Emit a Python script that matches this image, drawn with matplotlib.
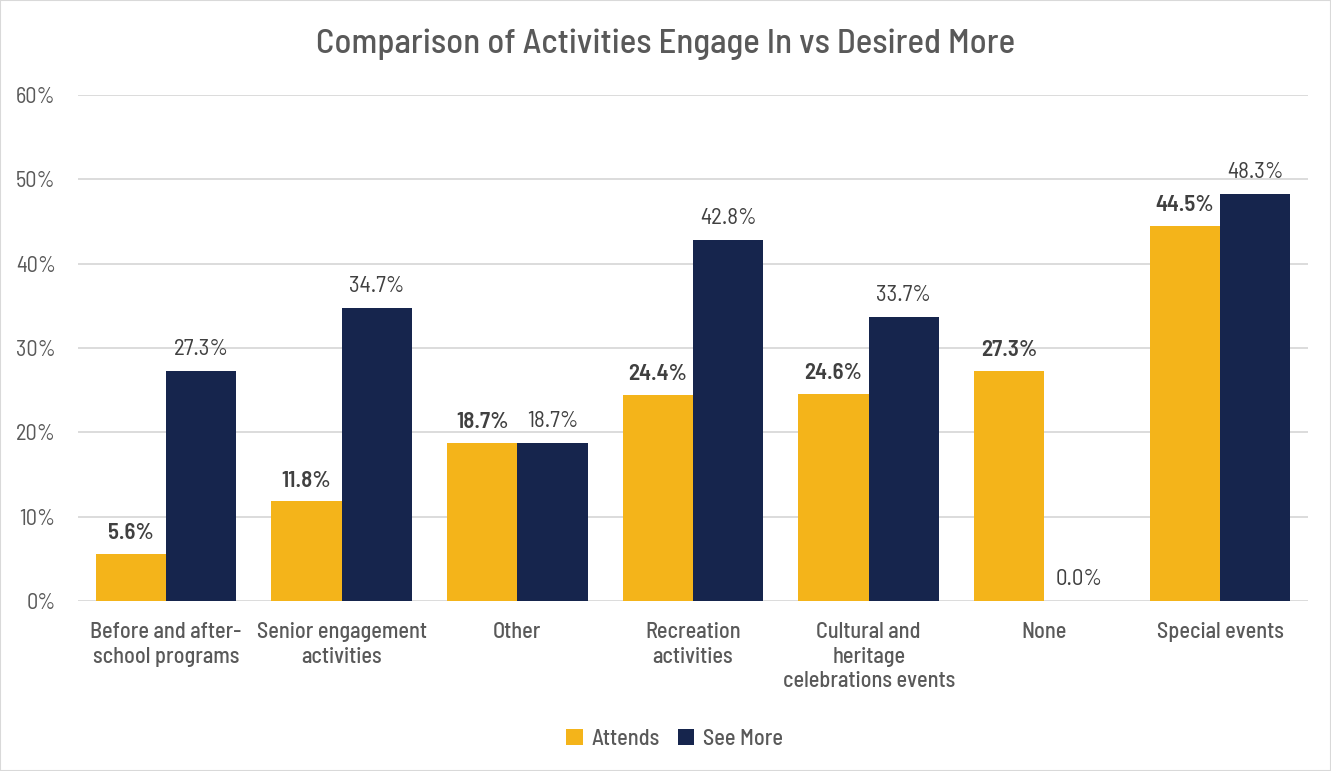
import matplotlib.pyplot as plt
import numpy as np

categories = [
    "Before and after-\nschool programs",
    "Senior engagement\nactivities",
    "Other",
    "Recreation\nactivities",
    "Cultural and\nheritage\ncelebrations events",
    "None",
    "Special events",
]
attends = [5.6, 11.8, 18.7, 24.4, 24.6, 27.3, 44.5]
see_more = [27.3, 34.7, 18.7, 42.8, 33.7, 0.0, 48.3]
y_ticks = [0, 10, 20, 30, 40, 50, 60]

plt.rcParams["font.family"] = ["Barlow Semi Condensed", "DejaVu Sans"]

text_color = "#595959"
label_color = "#404040"
yellow = "#F4B41A"
navy = "#16254D"

fig = plt.figure(figsize=(13.31, 7.71), dpi=100)
ax = fig.add_axes([0.0586, 0.2205, 0.9241, 0.6563])

x = np.arange(len(categories))
w = 0.4
b1 = ax.bar(x - w / 2, attends, w, color=yellow, label="Attends", zorder=3)
b2 = ax.bar(x + w / 2, see_more, w, color=navy, label="See More", zorder=3)

# value labels: bold for Attends, regular for See More
for rect, v in zip(b1, attends):
    ax.text(rect.get_x() + rect.get_width() / 2, v + 1.3, f"{v:.1f}%",
            ha="center", va="bottom", fontsize=16.5, fontweight="semibold",
            color=label_color)
for rect, v in zip(b2, see_more):
    ax.text(rect.get_x() + rect.get_width() / 2, v + 1.3, f"{v:.1f}%",
            ha="center", va="bottom", fontsize=16.5, color=label_color)

ax.set_xlim(-0.5, len(categories) - 0.5)
ax.set_ylim(0, 60)
ax.set_yticks(y_ticks)
ax.set_yticklabels([f"{t}%" for t in y_ticks], fontsize=16, color=text_color)
ax.set_xticks(x)
ax.set_xticklabels(categories, fontsize=16, color=text_color,
                   fontweight="medium", linespacing=1.3)
ax.tick_params(axis="x", length=0, pad=15)
ax.tick_params(axis="y", length=0, pad=16)
ax.grid(axis="y", color="#d9d9d9", linewidth=1.3, zorder=0)
for s in ax.spines.values():
    s.set_visible(False)

fig.suptitle("Comparison of Activities Engage In vs Desired More", fontsize=25,
             fontweight="medium", color=text_color, y=0.963, va="top")

fig.legend(loc="center", bbox_to_anchor=(0.507, 0.042), ncol=2, frameon=False,
           handlelength=0.75, handleheight=0.75, columnspacing=0.8,
           handletextpad=0.4, labelcolor=text_color,
           prop={"weight": "medium", "size": 16})

fig.patches.append(plt.Rectangle((0, 0), 1, 1, transform=fig.transFigure,
                                 fill=False, edgecolor="#d9d9d9", linewidth=1.5))

fig.savefig("out.png", dpi=100)
